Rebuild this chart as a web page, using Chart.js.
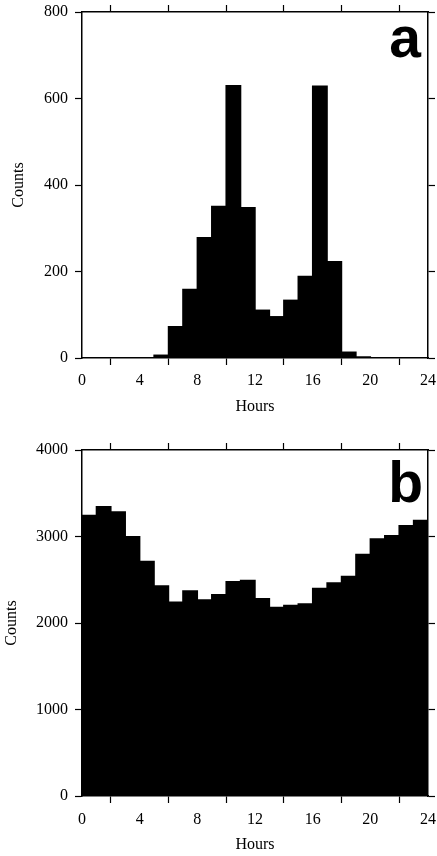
<!DOCTYPE html>
<html>
<head>
<meta charset="utf-8">
<script src="https://cdn.jsdelivr.net/npm/chart.js@4.4.1/dist/chart.umd.min.js"></script>
<style>
  html, body { margin: 0; padding: 0; background: #fff; }
  .panel { position: relative; width: 437px; height: 428px; }
  canvas { display: block; }
</style>
</head>
<body>
<div class="panel"><canvas id="chartA" width="437" height="428"></canvas></div>
<div class="panel"><canvas id="chartB" width="437" height="428"></canvas></div>
<script>
// hourly bins (start hour of each 1-hour bin)
const binStarts = [0, 1, 2, 3, 4, 5, 6, 7, 8, 9, 10, 11, 12, 13, 14, 15, 16, 17, 18, 19, 20, 21, 22, 23]
const countsA = [0, 0, 0, 0, 2, 8, 74, 160, 280, 352, 631, 349, 112, 97, 135, 190, 630, 224, 15, 4, 0, 0, 0, 0]
const countsB = [3252, 3353, 3291, 3006, 2721, 2435, 2250, 2378, 2274, 2335, 2486, 2501, 2289, 2189, 2212, 2227, 2408, 2470, 2547, 2802, 2979, 3017, 3133, 3195]

const hourTicks = [0, 4, 8, 12, 16, 20, 24]
const countTicksA = [0, 200, 400, 600, 800]
const countTicksB = [0, 1000, 2000, 3000, 4000]

const SERIF = "'Liberation Serif', 'Times New Roman', serif"

const setTicks = (list) => (scale) => {
  scale.ticks = list.map((v) => ({ value: v }))
}
// fixed axis box size, and no extra label padding pushing the plot area in
const fixSize = (size) => (scale) => {
  if (scale.isHorizontal()) scale.height = size
  else scale.width = size
  scale.paddingLeft = 0
  scale.paddingRight = 0
  scale.paddingTop = 0
  scale.paddingBottom = 0
}

// big bold panel letter in the top-right corner
const panelLetter = {
  id: "panelLetter",
  afterDraw(chart, args, opts) {
    const { ctx, chartArea } = chart
    ctx.save()
    ctx.font = "bold 57px 'Liberation Sans', Arial, sans-serif"
    ctx.fillStyle = "#000"
    ctx.textAlign = "right"
    ctx.textBaseline = "alphabetic"
    ctx.fillText(opts.text, chartArea.right + opts.dx, chartArea.top + opts.dy)
    ctx.restore()
  },
}

function buildChart(id, values, yTicks, cfg) {
  const yMax = yTicks[yTicks.length - 1]
  const axisBase = {
    border: { display: true, color: "#000", width: 1.5 },
    grid: { drawOnChartArea: false, drawTicks: true, tickLength: 7, tickColor: "#000", tickWidth: 1.2 },
  }

  return new Chart(document.getElementById(id), {
    type: "bar",
    data: {
      datasets: [
        {
          data: binStarts.map((h, i) => ({ x: h + 0.5, y: values[i] })),
          backgroundColor: "#000",
          borderWidth: 0,
          barPercentage: 1.1,
          categoryPercentage: 1,
        },
      ],
    },
    options: {
      responsive: false,
      animation: false,
      devicePixelRatio: 1,
      layout: { padding: 0 },
      plugins: {
        legend: { display: false },
        tooltip: { enabled: false },
        panelLetter: cfg.letter,
      },
      scales: {
        x: {
          ...axisBase,
          type: "linear",
          position: "bottom",
          min: 0,
          max: 24,
          offset: false,
          afterBuildTicks: setTicks(hourTicks),
          afterFit: fixSize(cfg.bottomH),
          ticks: {
            color: "#000",
            padding: cfg.xTickPad,
            maxRotation: 0,
            autoSkip: false,
            callback: (v) => String(v),
            font: { family: SERIF, size: 16 },
          },
          title: {
            display: true,
            text: "Hours",
            color: "#000",
            font: { family: SERIF, size: 16 },
            padding: { top: 0, bottom: cfg.xTitlePad },
          },
        },
        x2: {
          ...axisBase,
          type: "linear",
          position: "top",
          min: 0,
          max: 24,
          offset: false,
          afterBuildTicks: setTicks(hourTicks),
          afterFit: fixSize(cfg.topH),
          ticks: { display: false },
        },
        y: {
          ...axisBase,
          type: "linear",
          position: "left",
          min: 0,
          max: yMax,
          afterBuildTicks: setTicks(yTicks),
          afterFit: fixSize(82),
          ticks: {
            color: "#000",
            padding: 7,
            callback: (v) => String(v),
            font: { family: SERIF, size: 16 },
          },
          title: {
            display: true,
            text: "Counts",
            color: "#000",
            font: { family: SERIF, size: 16 },
            padding: { top: cfg.yTitlePad, bottom: 0 },
          },
        },
        y2: {
          ...axisBase,
          type: "linear",
          position: "right",
          min: 0,
          max: yMax,
          afterBuildTicks: setTicks(yTicks),
          afterFit: fixSize(9),
          ticks: { display: false },
        },
      },
    },
    plugins: [panelLetter],
  })
}

buildChart("chartA", countsA, countTicksA, {
  topH: 12,
  bottomH: 70,
  xTickPad: 6,
  xTitlePad: 11.4,
  yTitlePad: 8.7,
  letter: { text: "a", dx: -7, dy: 45 },
})

buildChart("chartB", countsB, countTicksB, {
  topH: 22,
  bottomH: 60,
  xTickPad: 7,
  xTitlePad: 1.4,
  yTitlePad: 1.7,
  letter: { text: "b", dx: -5, dy: 52 },
})
</script>
</body>
</html>
